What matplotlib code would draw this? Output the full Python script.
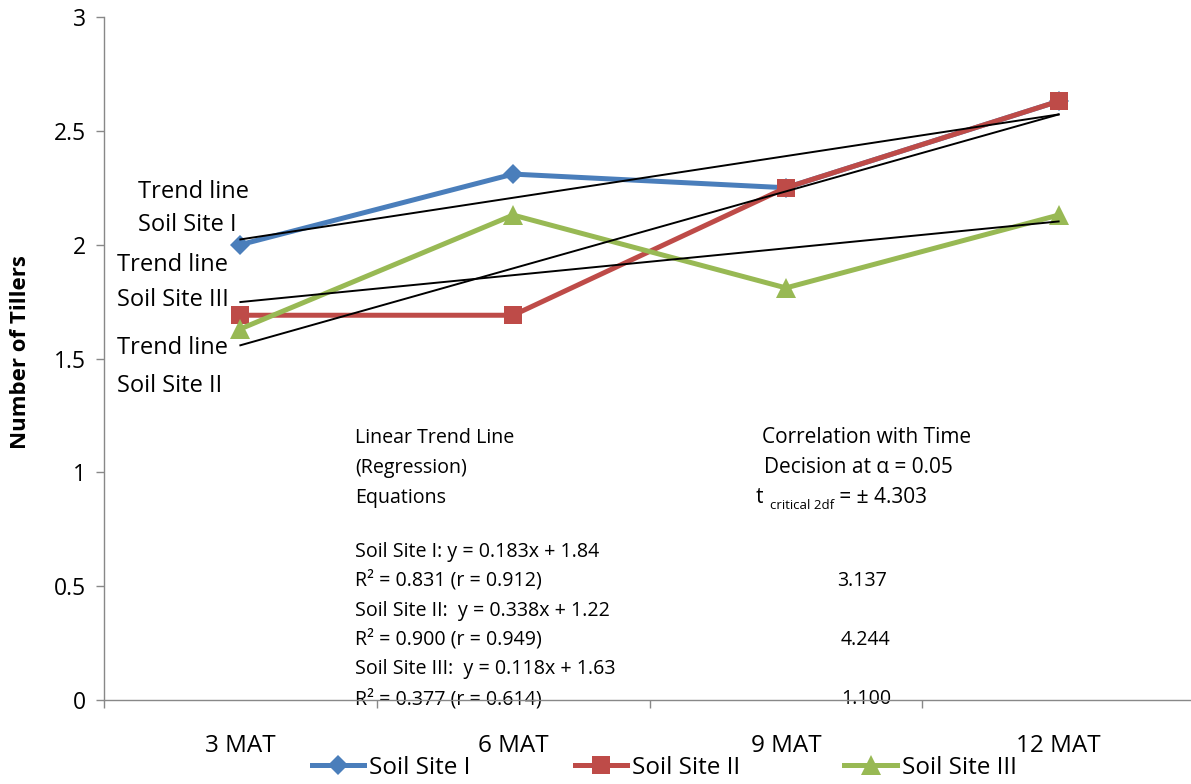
import matplotlib
matplotlib.use("Agg")
import matplotlib.pyplot as plt
from matplotlib.ticker import FixedLocator, FuncFormatter

plt.rcParams["font.family"] = ["Open Sans", "DejaVu Sans"]

# ---- data -------------------------------------------------------------
categories = ["3 MAT", "6 MAT", "9 MAT", "12 MAT"]
series_names = ["Soil Site I", "Soil Site II", "Soil Site III"]
site_i = [2.00, 2.31, 2.25, 2.63]
site_ii = [1.69, 1.69, 2.25, 2.63]
site_iii = [1.63, 2.13, 1.81, 2.13]

# linear regression of tillers on time index (1..4)
slopes = [0.183, 0.338, 0.118]
intercepts = [1.84, 1.22, 1.63]
r_squared = [0.831, 0.900, 0.377]
r_values = [0.912, 0.949, 0.614]
t_values = [3.137, 4.244, 1.100]
t_critical = 4.303
alpha = 0.05

y_ticks = [0, 0.5, 1, 1.5, 2, 2.5, 3]

colors = ["#4A7EBB", "#BE4B48", "#98B954"]
markers = ["D", "s", "^"]
marker_sizes = [10, 13, 14]
spine_color = "#888888"

# ---- figure -----------------------------------------------------------
W, H = 1191, 784
fig = plt.figure(figsize=(W / 100, H / 100), dpi=100)
ax = fig.add_axes([104 / W, 1 - 700 / H, (1195 - 104) / W, (700 - 17) / H])

xs = list(range(len(categories)))
for values, name, c, m, ms in zip([site_i, site_ii, site_iii], series_names,
                                  colors, markers, marker_sizes):
    ax.plot(xs, values, color=c, lw=3.6, marker=m, markersize=ms,
            markeredgewidth=0, label=name, zorder=2, solid_joinstyle="round")

# fitted trend lines from the first to the last sampling time
for a, b in zip(slopes, intercepts):
    t_idx = [1, len(categories)]
    ax.plot([xs[0], xs[-1]], [a * t + b for t in t_idx], color="black",
            lw=1.4, zorder=3)

ax.set_xlim(-0.5, len(categories) - 0.5)
ax.set_ylim(y_ticks[0], y_ticks[-1])

# axes styling
for side in ("top", "right"):
    ax.spines[side].set_visible(False)
for side in ("left", "bottom"):
    ax.spines[side].set_color(spine_color)
    ax.spines[side].set_linewidth(1.0)
    ax.spines[side].set_zorder(5)

ax.yaxis.set_major_locator(FixedLocator(y_ticks))
ax.yaxis.set_major_formatter(FuncFormatter(lambda v, p: f"{v:g}"))
ax.tick_params(axis="y", direction="out", length=5.8, width=1.0,
               color=spine_color, pad=7, labelsize=16.5)

ax.set_xticks(xs)
ax.set_xticklabels(categories)
ax.set_xticks([x - 0.5 for x in xs] + [xs[-1] + 0.5], minor=True)
ax.tick_params(axis="x", which="major", length=0, pad=24.8, labelsize=17.5)
ax.tick_params(axis="x", which="minor", direction="out", length=5.8,
               width=1.0, color=spine_color)

ax.set_ylabel("Number of Tillers", fontsize=16, fontweight="bold", va="center")
ax.yaxis.set_label_coords(21 / W, 1 - 352 / H, transform=fig.transFigure)

# ---- trend line labels ------------------------------------------------
trend_label_pos = [(-0.374, 2.205, -0.374, 2.060),   # Site I
                   (-0.451, 1.520, -0.451, 1.353),   # Site II
                   (-0.451, 1.884, -0.451, 1.731)]   # Site III
for name, (x1, y1, x2, y2) in zip(series_names, trend_label_pos):
    ax.text(x1, y1, "Trend line", fontsize=17, va="baseline", ha="left")
    ax.text(x2, y2, name, fontsize=17, va="baseline", ha="left")

# ---- regression equations block ---------------------------------------
eq_fs = 14.1
eq_x = 0.421
for y, s in zip([1.129, 0.997, 0.865],
                ["Linear Trend Line", "(Regression)", "Equations"]):
    ax.text(eq_x, y, s, fontsize=eq_fs, va="baseline", ha="left")

eq_rows = [(0.628, 0.501), (0.369, 0.242), (0.114, -0.018)]
for i, (name, (y_eq, y_r)) in enumerate(zip(series_names, eq_rows)):
    sep = " " if i == 0 else "  "
    ax.text(eq_x, y_eq,
            f"{name}:{sep}y = {slopes[i]:.3f}x + {intercepts[i]:.2f}",
            fontsize=eq_fs, va="baseline", ha="left")
    ax.text(eq_x, y_r, f"R\u00b2 = {r_squared[i]:.3f} (r = {r_values[i]:.3f})",
            fontsize=eq_fs, va="baseline", ha="left")

# ---- correlation test block -------------------------------------------
ct_fs = 15.0
ax.text(1.912, 1.129, "Correlation with Time", fontsize=ct_fs,
        va="baseline", ha="left")
ax.text(1.920, 0.997, f"Decision at \u03b1 = {alpha:.2f}", fontsize=ct_fs,
        va="baseline", ha="left")
t_txt = ax.text(1.890, 0.865, "t", fontsize=ct_fs, va="baseline", ha="left")
sub_txt = ax.annotate("critical 2df", xy=(1, 0), xycoords=t_txt,
                      xytext=(4.5, -2.5), textcoords="offset points",
                      fontsize=9.5, va="bottom", ha="left")
ax.annotate(f" = \u00b1 {t_critical:.3f}", xy=(1, 0), xycoords=(sub_txt, t_txt),
            xytext=(0, 0), textcoords="offset points",
            fontsize=ct_fs, va="bottom", ha="left")

t_x = [2.278, 2.293, 2.293]
for tx, (_, y_r), tv in zip(t_x, eq_rows, t_values):
    ax.text(tx, y_r, f"{tv:.3f}", fontsize=eq_fs, va="baseline", ha="center")

# ---- legend -----------------------------------------------------------
fig.legend(*ax.get_legend_handles_labels(), loc="center", ncol=3,
           bbox_to_anchor=(664 / W, 1 - 768 / H), frameon=False,
           fontsize=17.5, handlelength=2.15, handletextpad=0.2,
           columnspacing=4.3, borderpad=0.0, numpoints=1)

fig.savefig("out.png", dpi=100)
